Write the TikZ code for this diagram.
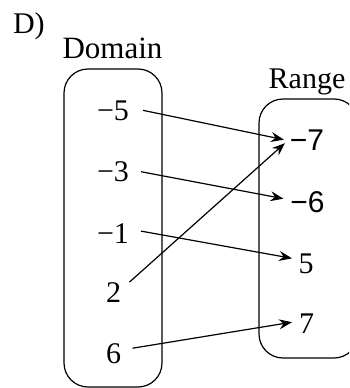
\documentclass[tikz,border=0pt]{standalone}
\usepackage{fontspec}
\setmainfont{Liberation Serif}
\newfontfamily\arialf{Liberation Sans}
\usetikzlibrary{arrows.meta}
\tikzset{
  txt/.style={inner sep=0pt, outer sep=0pt, font=\fontsize{30}{36}\selectfont, anchor=base},
  setbox/.style={draw, line width=1.2pt, rounded corners=24pt, inner sep=0pt},
  maparrow/.style={line width=1.2pt, -{Stealth[length=13pt,width=10pt,inset=4.5pt]}}
}
\begin{document}
\begin{tikzpicture}[x=1pt,y=-1pt]
\useasboundingbox (0,0) rectangle (349,388);
\begin{scope}
\clip (0,0) rectangle (349,388);
\node[txt, anchor=base west] (lab) at (13,33) {D)};
\node[txt, font=\fontsize{31}{36}\selectfont] (dom) at (112.5,58) {Domain};
\node[txt] (rng) at (307,88) {Range};
\node[setbox, minimum width=98pt, minimum height=318pt] (dbox) at (113,228) {};
\node[setbox, minimum width=99pt, minimum height=259pt] (rbox) at (308.5,228.5) {};
\node[txt] (a1) at (113,120) {−5};
\node[txt] (a2) at (113,181.5) {−3};
\node[txt] (a3) at (113,243) {−1};
\node[txt] (a4) at (113.5,302) {2};
\node[txt] (a5) at (113.5,363) {6};
\node[txt] (b1) at (307,150) {\arialf −7};
\node[txt] (b2) at (307.5,212) {\arialf −6};
\node[txt] (b3) at (306,273) {5};
\node[txt] (b4) at (306.5,333) {7};
\draw[maparrow] ([xshift=14pt]a1.east) -- ([xshift=-6pt]b1.west);
\draw[maparrow] ([xshift=12pt]a2.east) -- ([xshift=-7pt,yshift=3pt]b2.west);
\draw[maparrow] ([xshift=12pt,yshift=2pt]a3.east) -- ([xshift=-6.5pt,yshift=5pt]b3.west);
\draw[maparrow] ([xshift=8.5pt,yshift=10pt]a4.east) -- ([xshift=-5pt,yshift=-3.5pt]b1.west);
\draw[maparrow] ([xshift=11.5pt,yshift=5pt]a5.east) -- ([xshift=-7pt,yshift=1pt]b4.west);
\end{scope}
\end{tikzpicture}
\end{document}
